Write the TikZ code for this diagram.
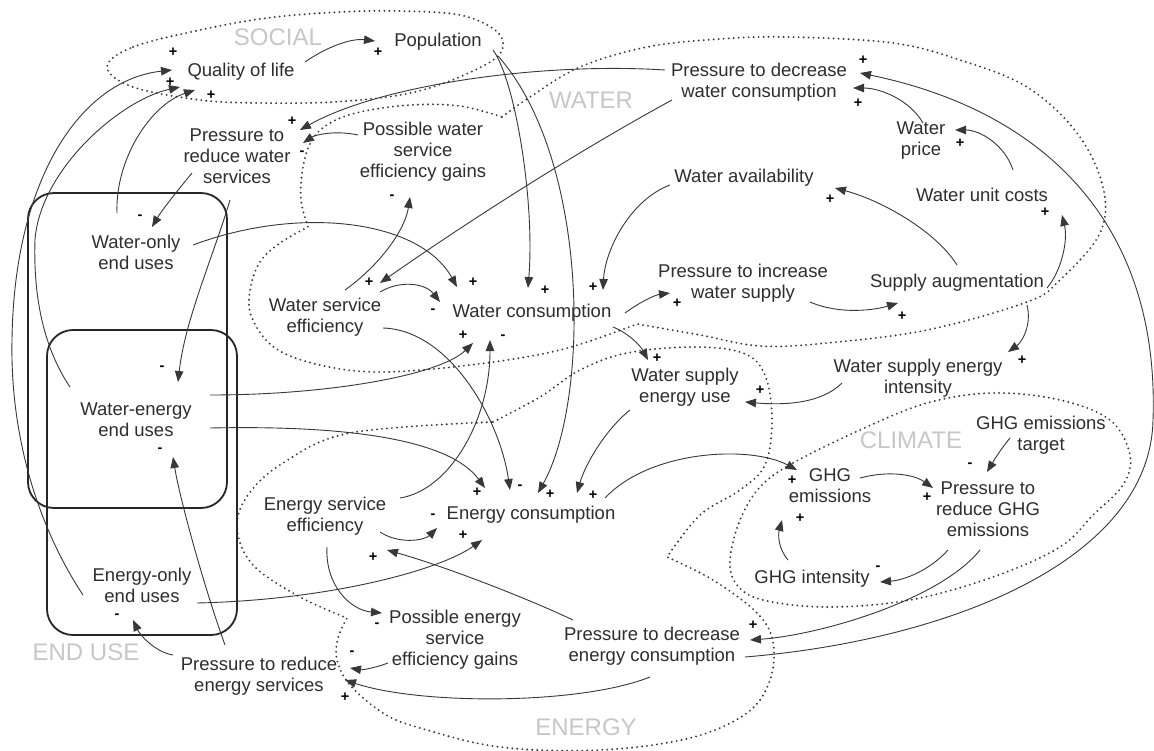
\documentclass[tikz,border=0pt]{standalone}
\usepackage{fontspec}
\setmainfont{Liberation Sans}
\usetikzlibrary{arrows.meta}

\begin{document}
\begin{tikzpicture}[x=1pt,y=-1pt,
  var/.style={align=center, inner sep=0pt, text=black!82, font=\fontsize{18.5}{21}\selectfont},
  region/.style={inner sep=0pt, text=black!22, font=\fontsize{24}{24}\selectfont},
  link/.style={draw=black!78, line width=0.9pt, -{Triangle[length=11pt,width=8.5pt]}},
  sign/.style={inner sep=0pt, font=\fontsize{14.5}{14.5}\selectfont\bfseries, text=black},
  zone/.style={draw=black!78, line width=2.1pt, dash pattern=on 0pt off 5pt, line cap=round},
  usebox/.style={draw=black!85, line width=1.8pt, rounded corners=26pt, inner sep=0pt}
]
\useasboundingbox[fill=white] (0,0) rectangle (1154,750);

% ---------- sector outlines ----------
% social
\draw[zone] plot[smooth cycle, tension=0.6] coordinates {
  (107,67) (133,47) (200,30) (267,18) (340,12) (400,11) (460,15) (495,30)
  (503,47) (490,62) (447,82) (400,95) (333,102) (260,103) (200,100) (133,87)};
% water
\draw[zone] plot[smooth, tension=0.6] coordinates {
  (502,117) (530,97) (580,67) (647,47) (720,39) (790,37) (893,43) (960,60)
  (1027,87) (1077,133) (1103,187) (1100,233) (1060,280) (1027,302) (927,330)
  (827,343) (760,346) (700,335) (637,324)}
  -- plot[smooth, tension=0.6] coordinates {
  (637,324) (560,350) (470,365) (380,372) (320,365) (275,348) (252,318)
  (250,290) (260,262) (280,243) (308,227)}
  -- plot[smooth, tension=0.6] coordinates {
  (308,227) (301,200) (303,167) (312,140) (330,123) (360,112) (410,105)
  (460,106) (502,117)};
% energy
\draw[zone] plot[smooth, tension=0.6] coordinates {
  (493,422) (540,397) (580,370) (627,353) (693,347) (743,353) (765,375)
  (772,420) (765,465) (740,490) (700,515) (667,557)}
  -- plot[smooth, tension=0.6] coordinates {
  (667,557) (713,580) (757,613) (773,642) (770,680) (747,713) (690,738)
  (600,750) (500,747) (420,728) (383,713) (350,685) (337,660) (338,638) (347,618)}
  -- plot[smooth, tension=0.6] coordinates {
  (347,618) (300,597) (253,565) (237,528) (248,495) (283,463) (350,433) (493,422)};
% climate
\draw[zone] plot[smooth cycle, tension=0.6] coordinates {
  (760,487) (793,463) (860,430) (927,403) (993,393) (1060,400) (1110,420)
  (1130,455) (1123,485) (1093,515) (1060,547) (993,577) (910,600) (827,607)
  (763,600) (737,585) (730,560) (740,520)};

% ---------- end-use boxes ----------
\node[usebox, minimum width=199pt, minimum height=315pt] (boxa) at (127.5,350.5) {};
\node[usebox, minimum width=190pt, minimum height=305pt] (boxb) at (142,482.5) {};

% ---------- sector labels ----------
\node[region] (lsoc) at (278,37) {SOCIAL};
\node[region] (lwat) at (591,100) {WATER};
\node[region] (lcli) at (911,440) {CLIMATE};
\node[region] (lene) at (586,727) {ENERGY};
\node[region] (lend) at (86,652) {END USE};

% ---------- variables ----------
\node[var] (qol)   at (241,72)  {Quality of life};
\node[var] (pop)   at (438,42)  {Population};
\node[var] (pdwc)  at (759,82)  {Pressure to decrease\\water consumption};
\node[var] (prws)  at (237,156) {Pressure to\\reduce water\\services};
\node[var] (pwg)   at (423,152) {Possible water\\service\\efficiency gains};
\node[var] (wp)    at (921,141) {Water\\price};
\node[var] (wa)    at (744,178) {Water availability};
\node[var] (wuc)   at (982,195) {Water unit costs};
\node[var] (wou)   at (136,252) {Water-only\\end uses};
\node[var] (wse)   at (325,317) {Water service\\efficiency};
\node[var] (wc)    at (532,313) {Water consumption};
\node[var] (piws)  at (743,283) {Pressure to increase\\water supply};
\node[var] (sa)    at (957,283) {Supply augmentation};
\node[var] (weu)   at (136,420) {Water-energy\\end uses};
\node[var] (wseu)  at (685,387) {Water supply\\energy use};
\node[var] (wsei)  at (918,378) {Water supply energy\\intensity};
\node[var] (ghgt)  at (1041,435) {GHG emissions\\target};
\node[var] (ghg)   at (830,486) {GHG\\emissions};
\node[var] (prghg) at (988,509) {Pressure to\\reduce GHG\\emissions};
\node[var] (ghgi)  at (812,579) {GHG intensity};
\node[var] (ese)   at (325,516) {Energy service\\efficiency};
\node[var] (ec)    at (531,515) {Energy consumption};
\node[var] (eou)   at (142,585) {Energy-only\\end uses};
\node[var] (peg)   at (455,640) {Possible energy\\service\\efficiency gains};
\node[var] (pdec)  at (652,646) {Pressure to decrease\\energy consumption};
\node[var] (pres)  at (259,676) {Pressure to reduce\\energy services};

% ---------- causal links ----------
\draw[link] ([shift={(64,-10)}]qol.center) .. controls (325,48) and (350,38) .. ([shift={(-63,-1)}]pop.center);
\draw[link] ([shift={(55,8)}]pop.center) .. controls (515,80) and (535,200) .. ([shift={(-4,-25)}]wc.center);
\draw[link] ([shift={(60,14)}]pop.center) .. controls (590,160) and (590,400) .. ([shift={(7,-22)}]ec.center);
\draw[link] ([shift={(-74,7)}]wa.center) .. controls (630,200) and (605,250) .. ([shift={(71,-23)}]wc.center);
\draw[link] ([shift={(57,-7)}]wou.center) .. controls (300,205) and (420,220) .. ([shift={(-75,-26)}]wc.center);
\draw[link] ([shift={(-87,18)}]pdwc.center) .. controls (580,150) and (470,220) .. ([shift={(55,-34)}]wse.center);
\draw[link] ([shift={(55,-25)}]wse.center) .. controls (400,280) and (425,283) .. ([shift={(-92,-11)}]wc.center);
\draw[link] ([shift={(20,-27)}]wse.center) .. controls (380,265) and (405,230) .. ([shift={(-13,45)}]pwg.center);
\draw[link] ([shift={(-65,-17)}]pwg.center) .. controls (335,130) and (315,135) .. ([shift={(66,-13)}]prws.center);
\draw[link] ([shift={(-94,-12)}]pdwc.center) .. controls (540,62) and (380,85) .. ([shift={(63,-26)}]prws.center);
\draw[link] ([shift={(-59,10)}]eou.center) .. controls (40,530) and (10,440) .. (12,340)
  .. controls (14,180) and (80,80) .. ([shift={(-69,-2)}]qol.center);
\draw[link] ([shift={(-66,-33)}]weu.center) .. controls (45,350) and (33,300) .. (35,240)
  .. controls (40,170) and (120,100) .. ([shift={(-61,15)}]qol.center);
\draw[link] ([shift={(-19,-39)}]wou.center) .. controls (115,160) and (150,105) .. ([shift={(-46,18)}]qol.center);
\draw[link] ([shift={(-45,17)}]prws.center) .. controls (178,190) and (162,210) .. ([shift={(16,-25)}]wou.center);
\draw[link] ([shift={(-7,44)}]prws.center) .. controls (212,260) and (185,320) .. ([shift={(42,-38)}]weu.center);
\draw[link] ([shift={(-34,-31)}]pres.center) .. controls (205,590) and (180,500) .. ([shift={(37,37)}]weu.center);
\draw[link] ([shift={(-86,-21)}]pres.center) .. controls (155,652) and (140,635) .. ([shift={(-9,35)}]eou.center);
\draw[link] ([shift={(74,-25)}]weu.center) .. controls (330,395) and (440,375) .. ([shift={(-59,30)}]wc.center);
\draw[link] ([shift={(74,8)}]weu.center) .. controls (350,425) and (450,440) .. ([shift={(-46,-27)}]ec.center);
\draw[link] ([shift={(58,11)}]wse.center) .. controls (450,330) and (500,420) .. ([shift={(-21,-25)}]ec.center);
\draw[link] ([shift={(75,-18)}]ese.center) .. controls (450,490) and (490,420) .. ([shift={(-42,27)}]wc.center);
\draw[link] ([shift={(-55,23)}]wseu.center) .. controls (605,430) and (585,465) .. ([shift={(46,-22)}]ec.center);
\draw[link] ([shift={(74,-17)}]ec.center) .. controls (650,450) and (750,445) .. ([shift={(-33,-16)}]ghg.center);
\draw[link] ([shift={(55,16)}]ese.center) .. controls (400,545) and (425,540) .. ([shift={(-94,13)}]ec.center);
\draw[link] ([shift={(55,18)}]eou.center) .. controls (330,600) and (440,570) .. ([shift={(-49,25)}]ec.center);
\draw[link] ([shift={(-79,-26)}]pdec.center) .. controls (520,595) and (440,565) .. ([shift={(62,34)}]ese.center);
\draw[link] ([shift={(2,31)}]ese.center) .. controls (325,585) and (350,610) .. ([shift={(-73,-27)}]peg.center);
\draw[link] ([shift={(-67,23)}]peg.center) .. controls (375,668) and (362,670) .. ([shift={(91,-8)}]pres.center);
\draw[link] ([shift={(-2,31)}]pdec.center) .. controls (580,705) and (420,705) .. ([shift={(86,4)}]pres.center);
\draw[link] ([shift={(30,-8)}]ghg.center) .. controls (890,470) and (915,475) .. ([shift={(-55,-21)}]prghg.center);
\draw[link] ([shift={(-31,3)}]ghgt.center) .. controls (1000,450) and (993,462) .. ([shift={(-1,-37)}]prghg.center);
\draw[link] ([shift={(-40,41)}]prghg.center) .. controls (930,570) and (905,580) .. ([shift={(68,3)}]ghgi.center);
\draw[link] ([shift={(-24,-19)}]ghgi.center) .. controls (778,548) and (778,535) .. ([shift={(-48,34)}]ghg.center);
\draw[link] ([shift={(-8,41)}]prghg.center) .. controls (940,600) and (820,635) .. ([shift={(98,-6)}]pdec.center);
\draw[link] ([shift={(93,11)}]pdec.center) .. controls (950,640) and (1150,560) .. (1153,420)
  .. controls (1160,220) and (1040,110) .. ([shift={(101,-9)}]pdwc.center);
\draw[link] ([shift={(2,-18)}]wp.center) .. controls (910,100) and (880,88) .. ([shift={(94,6)}]pdwc.center);
\draw[link] ([shift={(31,-25)}]wuc.center) .. controls (1005,145) and (980,130) .. ([shift={(34,-11)}]wp.center);
\draw[link] ([shift={(90,5)}]sa.center) .. controls (1062,270) and (1068,240) .. ([shift={(80,20)}]wuc.center);
\draw[link] ([shift={(0,-18)}]sa.center) .. controls (935,230) and (880,200) .. ([shift={(91,10)}]wa.center);
\draw[link] ([shift={(70,22)}]sa.center) .. controls (1032,325) and (1022,342) .. ([shift={(90,-26)}]wsei.center);
\draw[link] ([shift={(67,19)}]piws.center) .. controls (840,315) and (875,310) .. ([shift={(-59,20)}]sa.center);
\draw[link] ([shift={(93,0)}]wc.center) .. controls (640,302) and (655,295) .. ([shift={(-73,10)}]piws.center);
\draw[link] ([shift={(81,14)}]wc.center) .. controls (628,333) and (640,345) .. ([shift={(-37,-27)}]wseu.center);
\draw[link] ([shift={(-76,5)}]wsei.center) .. controls (820,405) and (780,405) .. ([shift={(60,15)}]wseu.center);

% ---------- link polarities ----------
\foreach \px/\py/\pol [count=\i] in {
  378/52/+, 545/290/+, 550/494/+, 593/287/+, 473/282/+, 369/282/+, 433/311/-,
  392/197/-, 302/153/-, 292/121/+, 173/52/+, 170/82/+, 211/95/+, 140/217/-,
  162/368/-, 160/450/-, 117/616/-, 463/335/+, 477/492/+, 520/487/-, 503/337/-,
  593/495/+, 792/480/+, 433/516/-, 463/535/+, 373/557/+, 377/625/-, 352/653/-,
  345/697/+, 927/497/+, 970/465/-, 878/568/-, 800/518/+, 753/625/+, 863/60/+,
  858/103/+, 960/143/+, 1045/212/+, 830/199/+, 1022/360/+, 902/316/+, 677/303/+,
  657/358/+, 760/390/+}
  \node[sign] (sg\i) at (\px,\py) {\pol};
\end{tikzpicture}
\end{document}
